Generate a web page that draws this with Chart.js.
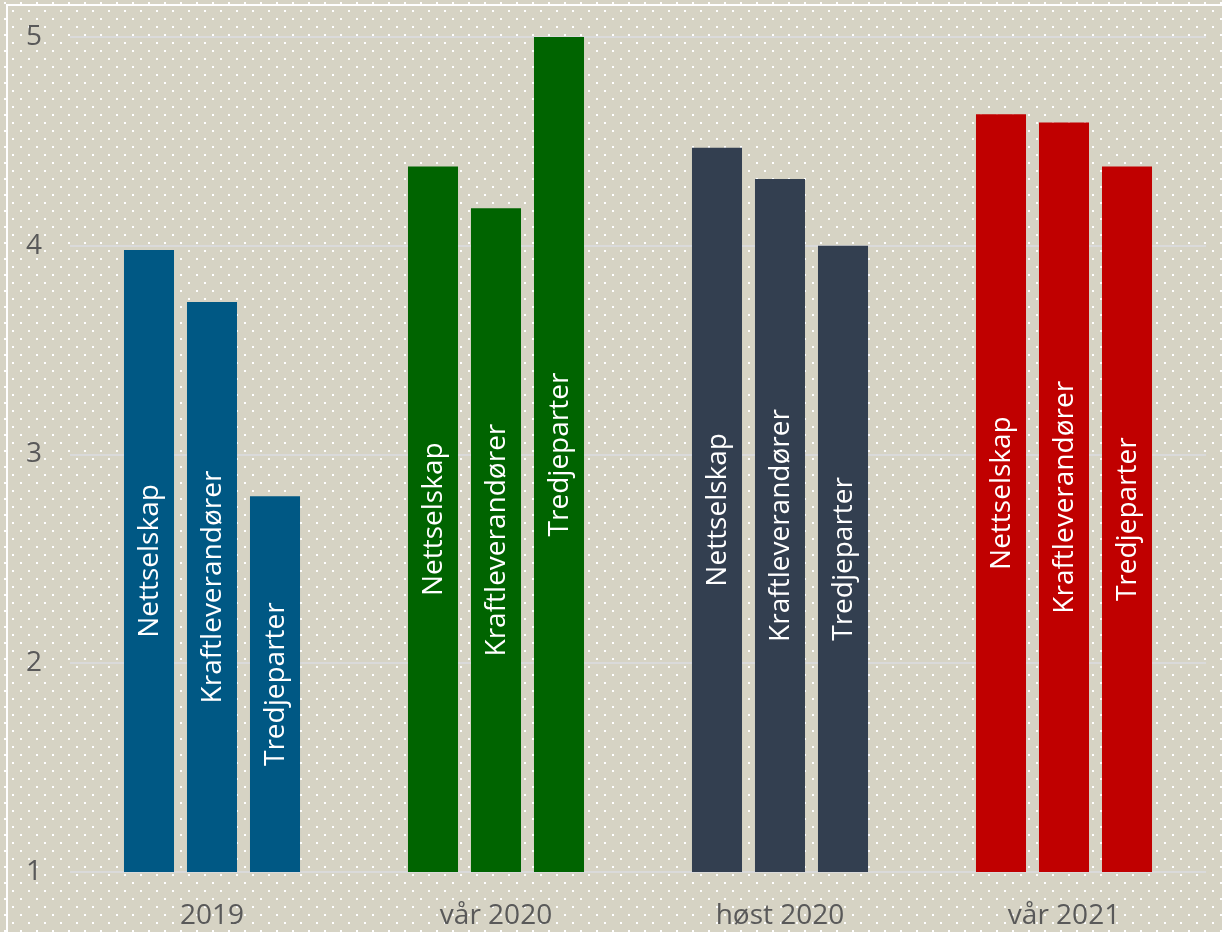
<!DOCTYPE html>
<html>
<head>
<meta charset="utf-8">
<script src="https://cdn.jsdelivr.net/npm/chart.js@4/dist/chart.umd.min.js"></script>
<style>
  html, body { margin: 0; padding: 0; background: #D6D3C4; }
  #wrap { width: 1222px; height: 932px; }
</style>
</head>
<body>
<div id="wrap"><canvas id="surveyChart" width="1222" height="932"></canvas></div>
<script>
// periods and scores
const periods = ["2019", "vår 2020", "høst 2020", "vår 2021"];
const groups = ["Nettselskap", "Kraftleverandører", "Tredjeparter"];
const nettselskap = [3.98, 4.38, 4.47, 4.63];
const kraftleverandorer = [3.73, 4.18, 4.32, 4.59];
const tredjeparter = [2.80, 5.00, 4.00, 4.38];
const yTicks = [1, 2, 3, 4, 5];

const periodColors = ["#005884", "#006400", "#333F50", "#C00000"];
const FONT = "'Open Sans', 'Noto Sans', sans-serif";

// dotted paper background + white frame
const backdrop = {
    id: "backdrop",
    beforeDraw(chart) {
        let ctx = chart.ctx;
        ctx.save();
        ctx.fillStyle = "#D6D3C4";
        ctx.fillRect(0, 0, chart.width, chart.height);

        let tile = document.createElement("canvas");
        tile.width = 16;
        tile.height = 16;
        let t = tile.getContext("2d");
        t.fillStyle = "#ffffff";
        t.fillRect(4, 2, 2, 2);
        t.fillRect(12, 10, 2, 2);
        ctx.fillStyle = ctx.createPattern(tile, "repeat");
        ctx.fillRect(0, 0, chart.width, chart.height);

        ctx.strokeStyle = "#ffffff";
        ctx.lineWidth = 2;
        ctx.beginPath();
        ctx.moveTo(6, 5);
        ctx.lineTo(chart.width, 5);
        ctx.moveTo(7, 4);
        ctx.lineTo(7, chart.height);
        ctx.stroke();
        ctx.restore();
    }
};

// vertical names written inside every bar
const barNames = {
    id: "barNames",
    afterDatasetsDraw(chart) {
        let ctx = chart.ctx;
        let bottom = chart.chartArea.bottom;
        ctx.save();
        ctx.fillStyle = "#ffffff";
        ctx.font = "28px " + FONT;
        ctx.textAlign = "center";
        ctx.textBaseline = "middle";
        chart.data.datasets.forEach((ds, i) => {
            chart.getDatasetMeta(i).data.forEach(bar => {
                let cy = (bar.y + Math.min(bar.base, bottom)) / 2;
                ctx.save();
                ctx.translate(bar.x, cy);
                ctx.rotate(-Math.PI / 2);
                ctx.fillText(ds.label, 0, 1);
                ctx.restore();
            });
        });
        ctx.restore();
    }
};

let ctx = document.getElementById("surveyChart").getContext("2d");
new Chart(ctx, {
    type: "bar",
    data: {
        labels: periods,
        datasets: [
            { label: groups[0], data: nettselskap, backgroundColor: periodColors },
            { label: groups[1], data: kraftleverandorer, backgroundColor: periodColors },
            { label: groups[2], data: tredjeparter, backgroundColor: periodColors }
        ]
    },
    options: {
        responsive: false,
        animation: false,
        devicePixelRatio: 1,
        categoryPercentage: 0.6655,
        barPercentage: 0.794,
        layout: { padding: { left: 26, right: 16, top: 37, bottom: 0 } },
        plugins: {
            legend: { display: false },
            tooltip: { enabled: false }
        },
        scales: {
            x: {
                grid: { display: false },
                border: { display: false },
                ticks: {
                    color: "#595959",
                    font: { family: FONT, size: 28 },
                    padding: 19
                },
                afterFit(axis) { axis.height = 60; }
            },
            y: {
                min: 1,
                max: 5,
                afterBuildTicks(axis) { axis.ticks = yTicks.map(v => ({ value: v })); },
                grid: { color: "#DADADA", lineWidth: 2, drawTicks: false },
                border: { display: false },
                ticks: {
                    color: "#595959",
                    font: { family: FONT, size: 28 },
                    padding: 0,
                    crossAlign: "far"
                },
                afterFit(axis) { axis.width = 44; }
            }
        }
    },
    plugins: [backdrop, barNames]
});
</script>
</body>
</html>
